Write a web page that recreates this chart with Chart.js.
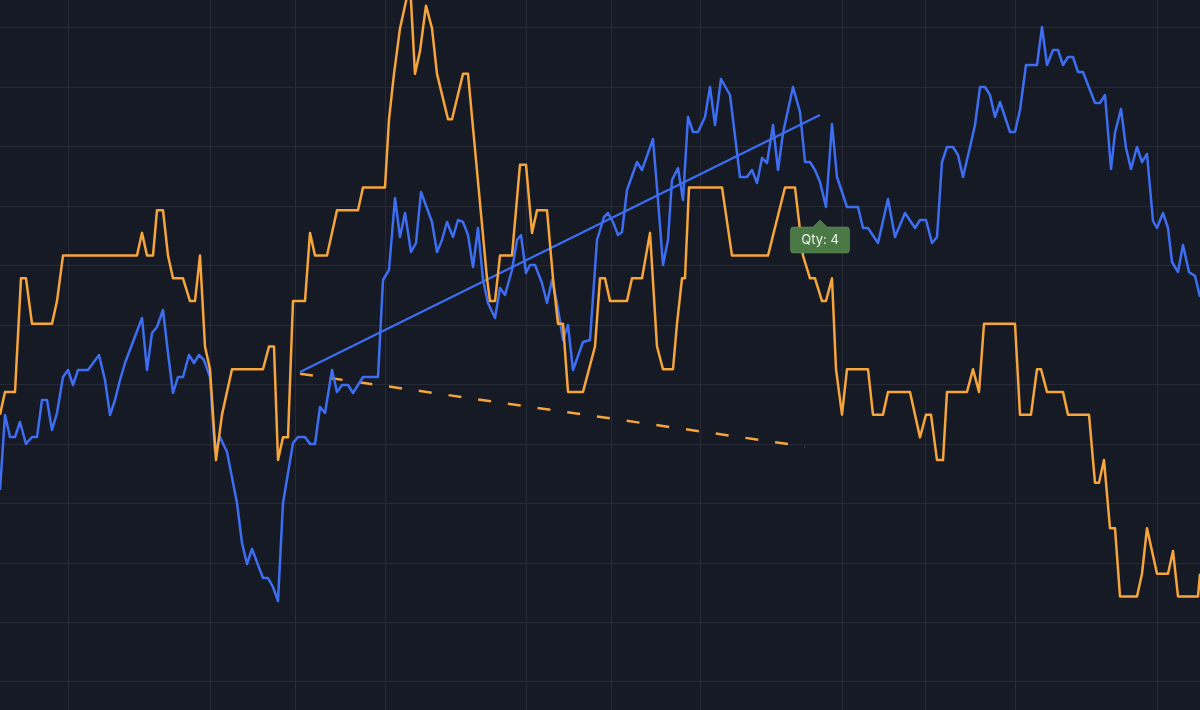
<!DOCTYPE html>
<html>
<head>
<meta charset="utf-8">
<script src="https://cdn.jsdelivr.net/npm/chart.js@4/dist/chart.umd.min.js"></script>
<style>
  html, body { margin: 0; padding: 0; background: #161a25; }
  #wrap { width: 1200px; height: 710px; }
</style>
</head>
<body>
<div id="wrap"><canvas id="c" width="1200" height="710"></canvas></div>
<script>
// ---- data (time index, value) ----
const blueX = [0,1,2,3,4,5.2,6.4,7.4,8.4,9.4,10.4,11.4,12.6,13.6,14.6,15.6,17.6,19.8,21,22,23,24,25,28.4,29.4,30.4,31.4,32.6,33.6,34.6,35.6,36.6,37.8,38.8,39.8,40.8,42,43,44,45.4,47.4,48.4,49.4,50.4,52.6,53.6,54.6,55.6,56.6,58.6,59.6,61,62,63,64,65,66.4,67.4,68.4,69.6,70.6,72.6,75.6,76.6,77.8,79,80,81,82.2,83.2,84.2,86.4,87.4,88.4,89.4,90.6,91.6,92.6,93.6,94.6,95.6,96.6,97.6,99,100,101,102.4,103.4,104.2,105.2,106,107,108.4,109.4,110.4,111.4,112.6,113.6,114.6,116.6,118,119.4,120.8,121.6,122.6,123.6,124.4,125.4,127.4,128.4,130.6,131.6,132.6,133.6,134.4,135.6,136.6,137.6,138.6,139.6,141,142,143,144.2,146,148,149.4,150.4,151.4,152.4,153.4,154.6,155.6,156.6,158.6,160,161,162,163,164,165.2,166.4,167.4,169.4,171.6,172.6,173.6,175.6,177.6,179,181,183,184,185.2,186.4,187.4,188.4,189.4,190.6,191.6,192.6,194,195,196,197,198,199,200,202,203,204,205.2,207.4,208.4,209.4,210.6,211.6,212.6,213.6,214.6,215.6,216.6,219,220,221,222.2,223,224.2,225.2,226.2,227.4,228.4,229.4,230.6,231.4,232.6,233.6,234.4,235.6,236.6,237.8,239,240];
const blueY = [22.0,29.5,27.3,27.3,28.8,26.6,27.3,27.3,31.0,31.0,28.0,29.7,33.3,34.0,32.5,34.0,34.0,35.5,33.0,29.5,31.0,33.0,34.7,39.2,34.0,37.7,38.3,40.0,35.7,31.7,33.3,33.3,35.5,34.7,35.5,35.0,33.3,25.8,27.3,25.8,20.7,16.7,14.6,16.1,13.2,13.2,12.3,10.9,20.7,26.7,27.3,27.3,26.6,26.6,30.3,29.7,34.0,31.8,32.5,32.5,31.7,33.3,33.3,43.0,44.0,51.2,47.3,49.7,45.8,46.7,51.8,48.8,45.8,47.0,48.8,47.3,49.0,48.8,47.5,44.3,48.2,43.0,40.7,39.2,42.2,41.5,44.0,47.0,47.5,43.7,44.5,44.5,42.7,40.7,43.0,40.7,37.0,38.5,34.0,36.8,37.0,47.0,49.3,49.7,48.8,47.5,47.8,52.0,54.8,54.0,57.1,51.0,44.5,47.0,53.0,54.2,51.0,59.3,57.8,57.8,59.3,62.3,58.5,63.1,61.5,53.3,53.3,54.0,52.7,55.2,54.7,58.5,54.0,57.7,62.3,59.8,54.8,54.8,54.0,52.8,50.3,58.6,53.3,50.3,50.3,48.2,48.2,46.7,51.1,47.3,49.7,48.2,49.0,49.0,46.7,47.3,54.8,56.3,56.3,55.5,53.3,56.3,58.5,62.3,62.3,61.5,59.3,60.8,57.8,57.8,60.0,64.5,64.5,68.3,64.5,66.0,66.0,64.5,65.3,65.3,63.8,63.8,60.7,60.7,61.5,54.1,57.7,60.1,56.2,54.1,56.3,54.8,55.6,48.9,48.2,49.7,48.2,44.8,43.8,46.5,43.8,43.4,41.3];

const orangeX = [0,1,3,4.2,5.2,6.4,10.4,11.4,12.6,27.4,28.4,29.4,30.6,31.4,32.6,33.6,34.6,36.6,38,39,40,41,42,43.2,44.4,46.4,52.6,53.8,54.8,55.6,56.6,57.6,58.6,61,62,63,65.4,67.4,71.6,72.6,77,77.8,78.8,80,82,83,84,85.2,86.4,87.4,89.6,90.4,92.6,93.6,97.4,98,99,100,102.4,104,105.2,106.4,107.4,109.4,110.6,111.6,112.6,113.6,116.6,119,120,121,122,125.4,126.4,128.4,130,131.4,132.6,134.6,135.4,136.4,137,137.8,144.4,146.4,153.6,157,159,160.6,162,163,164.4,165.2,166.4,167.2,168.4,169.4,173.6,174.6,176.6,177.6,182,184,185.2,186.2,187.4,188.6,189.4,193.4,194.6,195.8,196.8,203,204,206.2,207.4,208.2,209.4,212.6,213.6,217.8,219,219.8,220.8,222,223,224,227.4,228.4,229.4,231.4,233.6,234.6,235.6,239.6,240];
const orangeQty = [13,14,14,19,19,17,17,18,20,20,21,20,20,22,22,20,19,19,18,18,20,16,15,11,13,15,15,16,16,11,12,12,18,18,21,20,20,22,22,23,23,26,28,30,32,28,29,31,30,28,26,26,28,28,19,18,18,20,20,24,24,21,22,22,19,17,17,14,14,16,19,19,18,18,19,19,21,16,15,15,17,19,19,23,23,20,20,23,23,20,19,19,18,18,19,15,13,15,15,13,13,14,14,12,13,13,11,11,14,14,15,14,17,17,13,13,15,15,14,14,13,13,10,10,11,8,8,5,5,6,8,6,6,7,5,5,6];

// trend lines (start / end)
const blueTrendX = [60, 164];
const blueTrendY = [33.8, 59.5];
const orangeTrendX = [60, 161];
const orangeTrendQty = [14.8, 11.6];

// grid tick positions
const xGridTicks = [13.6, 42, 59, 77, 105.2, 122.2, 140.2, 168.4, 185.2, 203, 231.4];
const yGridTicks = [68.2, 62.26, 56.31, 50.37, 44.42, 38.48, 32.53, 26.59, 20.64, 14.7, 8.75, 2.81];

// tag
const qtyTag = { x: 164, y: 49.0, text: 'Qty: 4' };

// ---- build ----
const zip = (xs, ys) => xs.map((x, i) => ({ x: x, y: ys[i] }));

const BLUE = '#3d6df0';
const ORANGE = '#f5a53b';
const GRID = '#262a37';

const tagPlugin = {
  id: 'qtyTag',
  afterDatasetsDraw(chart) {
    const ctx = chart.ctx;
    const px = chart.scales.x.getPixelForValue(qtyTag.x);
    const py = chart.scales.y.getPixelForValue(qtyTag.y);
    const caretH = 7, caretW = 7, w = 59, h = 26, r = 3;
    const left = px - w / 2, top = py + caretH;
    ctx.save();
    ctx.fillStyle = '#4a7946';
    ctx.strokeStyle = 'rgba(140,190,130,0.35)';
    ctx.lineWidth = 1;
    ctx.beginPath();
    ctx.moveTo(left + r, top);
    ctx.lineTo(px - caretW, top);
    ctx.lineTo(px, py);
    ctx.lineTo(px + caretW, top);
    ctx.lineTo(left + w - r, top);
    ctx.quadraticCurveTo(left + w, top, left + w, top + r);
    ctx.lineTo(left + w, top + h - r);
    ctx.quadraticCurveTo(left + w, top + h, left + w - r, top + h);
    ctx.lineTo(left + r, top + h);
    ctx.quadraticCurveTo(left, top + h, left, top + h - r);
    ctx.lineTo(left, top + r);
    ctx.quadraticCurveTo(left, top, left + r, top);
    ctx.closePath();
    ctx.fill();
    ctx.stroke();
    ctx.fillStyle = '#eef3ec';
    ctx.font = '13px Inter, Roboto, "DejaVu Sans", sans-serif';
    ctx.textAlign = 'center';
    ctx.textBaseline = 'middle';
    ctx.fillText(qtyTag.text, px, top + h / 2 + 0.5);
    ctx.restore();
  }
};

const bgPlugin = {
  id: 'bg',
  beforeDraw(chart) {
    const ctx = chart.ctx;
    ctx.save();
    ctx.fillStyle = '#161a25';
    ctx.fillRect(0, 0, chart.width, chart.height);
    ctx.restore();
  }
};

const gridScale = (min, max, ticks) => ({
  type: 'linear',
  min: min,
  max: max,
  display: true,
  ticks: { display: false },
  grid: { color: GRID, lineWidth: 1, drawTicks: false },
  border: { display: false },
  afterBuildTicks(scale) { scale.ticks = ticks.map(v => ({ value: v })); }
});

new Chart(document.getElementById('c'), {
  type: 'line',
  data: {
    datasets: [
      {
        label: 'Qty',
        data: zip(orangeX, orangeQty),
        yAxisID: 'y2',
        borderColor: ORANGE,
        borderWidth: 2.5,
        pointRadius: 0,
        tension: 0,
        borderJoinStyle: 'round'
      },
      {
        label: 'Price',
        data: zip(blueX, blueY),
        yAxisID: 'y',
        borderColor: BLUE,
        borderWidth: 2.5,
        pointRadius: 0,
        tension: 0,
        borderJoinStyle: 'round'
      },
      {
        label: 'Price trend',
        data: zip(blueTrendX, blueTrendY),
        yAxisID: 'y',
        borderColor: BLUE,
        borderWidth: 2.2,
        pointRadius: 0
      },
      {
        label: 'Qty trend',
        data: zip(orangeTrendX, orangeTrendQty),
        yAxisID: 'y2',
        borderColor: ORANGE,
        borderWidth: 2.5,
        borderDash: [13, 17],
        pointRadius: 0
      }
    ]
  },
  options: {
    responsive: false,
    animation: false,
    layout: { padding: 0 },
    plugins: { legend: { display: false }, tooltip: { enabled: false } },
    scales: {
      x: gridScale(0, 240, xGridTicks),
      y: gridScale(0, 71, yGridTicks),
      y2: { type: 'linear', min: 0, max: 31.25, display: false }
    }
  },
  plugins: [bgPlugin, tagPlugin]
});
</script>
</body>
</html>
